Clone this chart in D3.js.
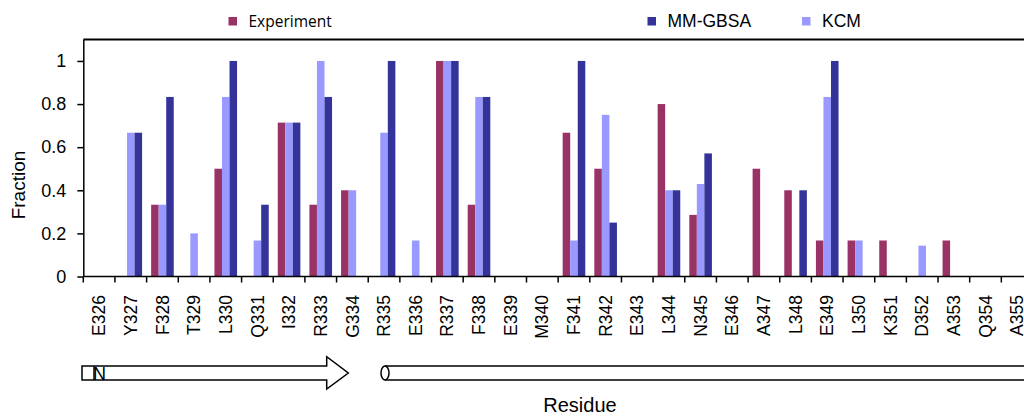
<!DOCTYPE html>
<html><head><meta charset="utf-8">
<script src="https://cdn.jsdelivr.net/npm/d3@7"></script>
<style>
body{margin:0;background:#fff}
svg{display:block}
text{font-family:"Liberation Sans",Arial,sans-serif;fill:#000}
</style>
</head><body><svg id="c" width="1024" height="416"></svg>
<script>
const categories = ["E326","Y327","F328","T329","L330","Q331","I332","R333","G334","R335","E336","R337","F338","E339","M340","F341","R342","E343","L344","N345","E346","A347","L348","E349","L350","K351","D352","A353","Q354","A355"];
const seriesNames = ["Experiment","KCM","MM-GBSA"];
const experiment = [0,0,0.333,0,0.5,0,0.714,0.333,0.4,0,0,1,0.333,0,0,0.667,0.5,0,0.8,0.286,0,0.5,0.4,0.167,0.167,0.167,0,0.167,0,0];
const kcm        = [0,0.667,0.333,0.2,0.833,0.167,0.714,1,0.4,0.667,0.167,1,0.833,0,0,0.167,0.75,0,0.4,0.429,0,0,0,0.833,0.167,0,0.143,0,0,0];
const mmgbsa     = [0,0.667,0.833,0,1,0.333,0.714,0.833,0,1,0,1,0.833,0,0,1,0.25,0,0.4,0.571,0,0,0.4,1,0,0,0,0,0,0];
const yTicks = [0,0.2,0.4,0.6,0.8,1];
const yTickLabels = ["0","0.2","0.4","0.6","0.8","1"];
const legendOrder = ["Experiment","MM-GBSA","KCM"];
const colors = {"Experiment":"#993366","KCM":"#9999ff","MM-GBSA":"#333399"};
const seriesData = {"Experiment":experiment,"KCM":kcm,"MM-GBSA":mmgbsa};

const svg = d3.select("#c");
svg.append("rect").attr("width",1024).attr("height",416).attr("fill","#fff");

const x = d3.scaleBand().domain(categories).range([83.3, 1033]).paddingInner(0).paddingOuter(0);
const xs = d3.scaleBand().domain(seriesNames).range([0, x.bandwidth()]).paddingInner(0).paddingOuter(0.6);
const y = d3.scaleLinear().domain([0,1.1]).range([276.5, 39.4]);

// bars
seriesNames.forEach(name => {
  const vals = seriesData[name];
  svg.append("g").selectAll("rect")
    .data(categories.map((c,i)=>({c, v: vals[i]})).filter(d=>d.v>0))
    .join("rect")
    .attr("x", d => x(d.c) + xs(name))
    .attr("y", d => y(d.v))
    .attr("width", xs.bandwidth())
    .attr("height", d => y(0) - y(d.v))
    .attr("fill", colors[name]);
});

// top border
svg.append("line").attr("x1",83.3).attr("x2",1024).attr("y1",39.4).attr("y2",39.4)
  .attr("stroke","#000").attr("stroke-width",2);

// y axis
const yAxis = svg.append("g").attr("transform","translate(83.3,0)")
  .call(d3.axisLeft(y).tickValues(yTicks).tickFormat((d,i)=>yTickLabels[i]).tickSize(6).tickSizeOuter(0).tickPadding(11));
yAxis.select(".domain").attr("stroke","#000").attr("stroke-width",1.5);
yAxis.selectAll(".tick line").attr("stroke","#000").attr("stroke-width",1.5);
yAxis.selectAll("text").style("font-size","18px").style("font-family","'Liberation Sans',Arial,sans-serif");

// x axis
const x0 = x.range()[0];
svg.append("line").attr("x1",x0).attr("x2",1033).attr("y1",y(0)).attr("y2",y(0))
  .attr("stroke","#000").attr("stroke-width",1.5);
svg.append("g").selectAll("line")
  .data(d3.range(categories.length+1))
  .join("line")
  .attr("x1", i => x0 + i*x.step()).attr("x2", i => x0 + i*x.step())
  .attr("y1", y(0)).attr("y2", y(0)+6)
  .attr("stroke","#000").attr("stroke-width",1.5);
svg.append("g").selectAll("text")
  .data(categories)
  .join("text")
  .attr("transform", d => `translate(${x(d)+x.bandwidth()/2},295) rotate(-90)`)
  .attr("dy","0.35em")
  .attr("text-anchor","end")
  .style("font-size","17.5px")
  .text(d=>d);

// axis titles
svg.append("text").attr("transform","translate(18,185) rotate(-90)")
  .attr("dy","0.35em").attr("text-anchor","middle").style("font-size","19px").text("Fraction");
svg.append("text").attr("x",580).attr("y",412).attr("text-anchor","middle")
  .style("font-size","20px").text("Residue");

// legend
const legX = {"Experiment":228.5,"MM-GBSA":647.5,"KCM":802};
legendOrder.forEach(name => {
  const g = svg.append("g");
  g.append("rect").attr("x",legX[name]).attr("y",17).attr("width",8.5).attr("height",8.5).attr("fill",colors[name]);
  g.append("text").attr("x",legX[name]+20).attr("y",26.5)
    .style("font-size", name==="Experiment" ? "15.5px" : "17.5px")
    .style("font-family", name==="Experiment" ? "'Open Sans',sans-serif" : "'Liberation Sans',Arial,sans-serif")
    .text(name);
});

// secondary structure: strand arrow
svg.append("path")
  .attr("d","M82,366 H326.7 V356.7 L348.3,373 L326.7,389 V380 H82 Z")
  .attr("fill","#fff").attr("stroke","#000").attr("stroke-width",1.5).attr("stroke-linejoin","miter");
svg.append("line").attr("x1",94).attr("x2",94).attr("y1",366).attr("y2",380).attr("stroke","#000").attr("stroke-width",1.5);
svg.append("text").attr("x",93).attr("y",379.5).style("font-size","18px").text("N");

// helix cylinder
svg.append("path").attr("d","M385,366 H1030 M385,380 H1030").attr("stroke","#000").attr("stroke-width",1.5).attr("fill","none");
svg.append("ellipse").attr("cx",385).attr("cy",373).attr("rx",4).attr("ry",7)
  .attr("fill","#fff").attr("stroke","#000").attr("stroke-width",1.5);
</script>
</body></html>
